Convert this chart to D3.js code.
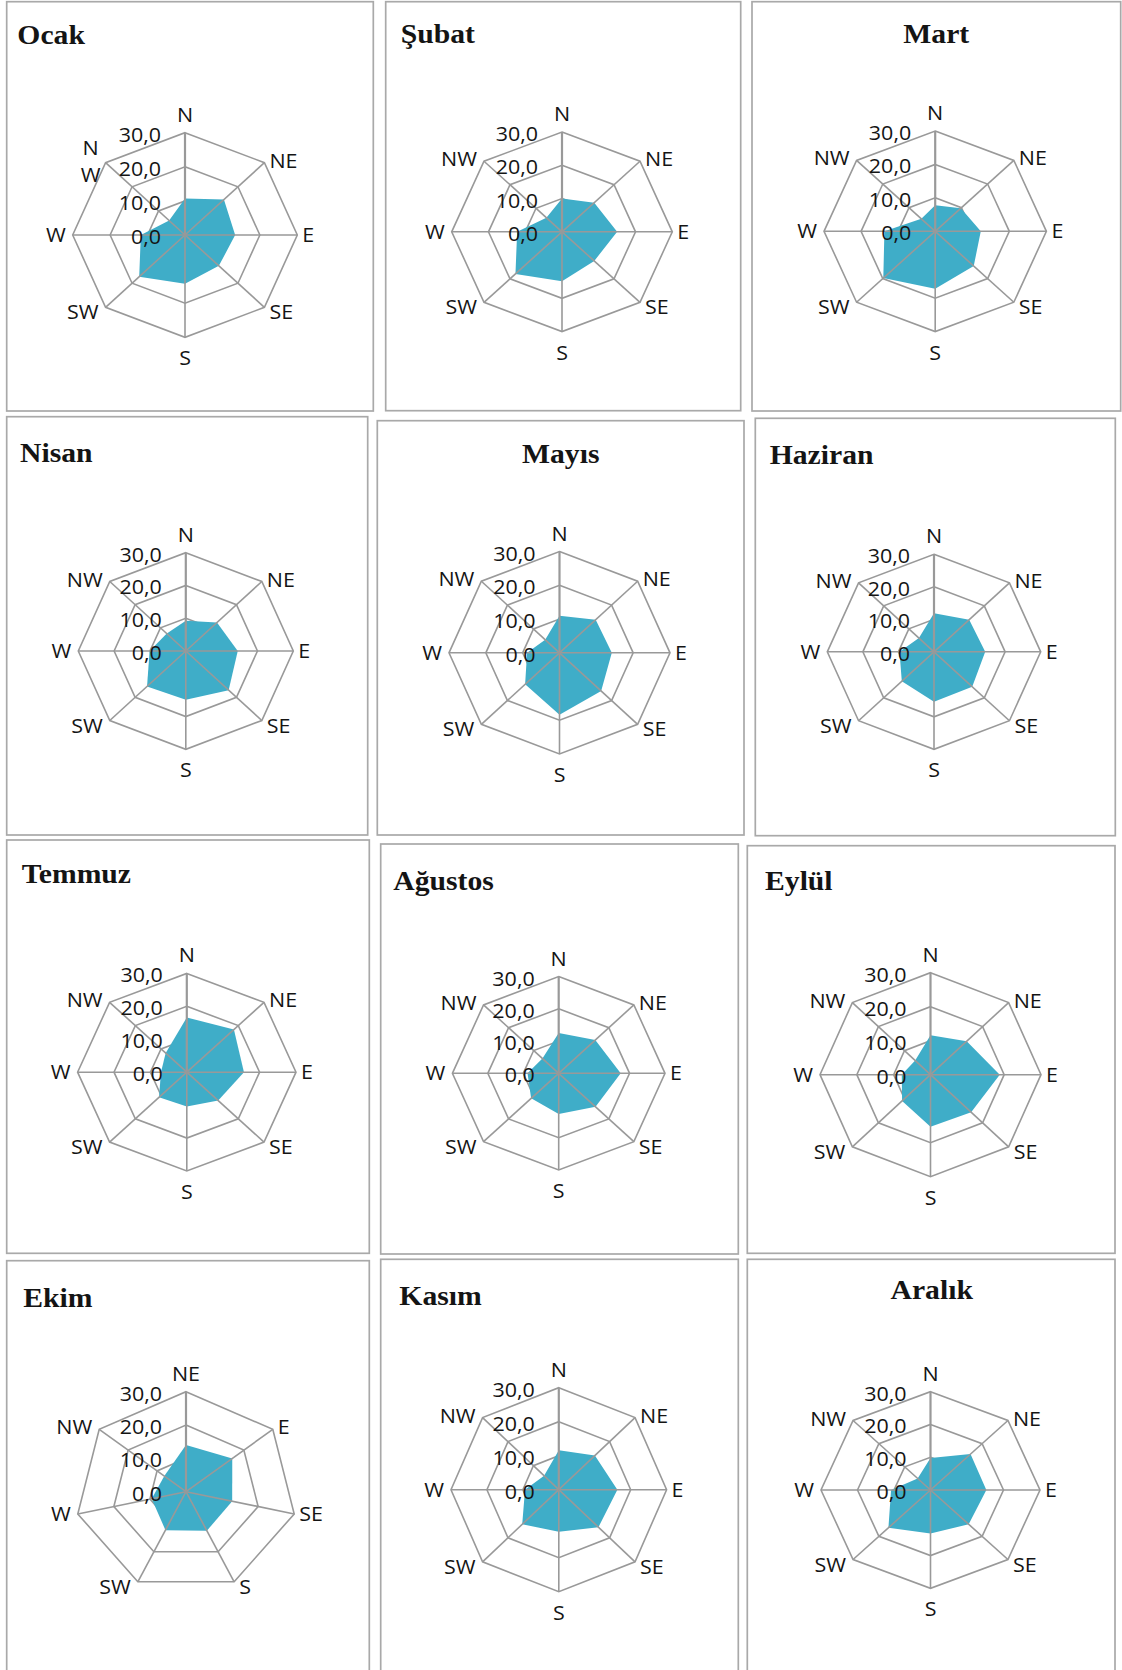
<!DOCTYPE html>
<html>
<head>
<meta charset="utf-8">
<script src="https://cdn.jsdelivr.net/npm/d3@7"></script>
<style>
  html, body { margin: 0; padding: 0; background: #fff; }
  svg { display: block; }
</style>
</head>
<body>
<svg id="chart" width="1122" height="1670"></svg>
<script>
// Monthly wind-direction frequencies (%), one radar per month
const months = ["Ocak", "Şubat", "Mart", "Nisan", "Mayıs", "Haziran",
                "Temmuz", "Ağustos", "Eylül", "Ekim", "Kasım", "Aralık"];
const directions = ["N", "NE", "E", "SE", "S", "SW", "W", "NW"];
const ekimDirections = ["NE", "E", "SE", "S", "SW", "W", "NW"];
const tickValues = [0, 10, 20, 30];
const tickLabels = ["0,0", "10,0", "20,0", "30,0"];

const ocak    = [10.7, 14.7, 13.4, 12.8, 14.3, 17.3, 11.8, 6.0];
const subat   = [10.0, 12.4, 15.0, 12.4, 14.9, 17.9, 12.2, 6.0];
const mart    = [7.8,  9.8,  12.3, 14.7, 17.2, 19.8, 13.7, 5.3];
const nisan   = [9.2,  12.3, 14.5, 16.9, 14.9, 15.3, 10.1, 7.5];
const mayis   = [11.0, 13.9, 14.2, 16.0, 18.4, 13.2, 8.8,  5.5];
const haziran = [11.9, 14.0, 14.4, 15.2, 15.4, 12.8, 9.7,  6.0];
const temmuz  = [16.6, 18.3, 15.7, 12.2, 10.4, 10.8, 7.1,  8.2];
const agustos = [12.5, 14.6, 17.5, 14.7, 12.6, 11.0, 8.8,  6.5];
const eylul   = [11.6, 13.9, 18.8, 15.6, 15.3, 10.9, 7.8,  5.9];
const ekim    = [14.0, 16.0, 12.8, 13.0, 12.8, 9.5,  7.5];
const kasim   = [11.6, 14.2, 16.3, 15.6, 12.4, 14.4, 9.4,  5.8];
const aralik  = [9.8,  15.5, 15.3, 14.8, 13.3, 16.3, 10.8, 5.0];

// Panel frames, radar centres / radii and title placement
const panels = [
  { title: months[0],  values: ocak,    dirs: directions,     box: [6.7, 1.7, 373.3, 411],      cx: 185,   cy: 235,    rx: 112.3, ry: 102.3, tx: 17.3,  ty: 44,     anchor: "start", wrapNW: true },
  { title: months[1],  values: subat,   dirs: directions,     box: [385.7, 1.7, 740.7, 410.7],  cx: 562,   cy: 231.8,  rx: 110.3, ry: 99.8,  tx: 400.7, ty: 43.3,   anchor: "start" },
  { title: months[2],  values: mart,    dirs: directions,     box: [752, 1.7, 1120.7, 411],     cx: 935.2, cy: 231.3,  rx: 111.2, ry: 100.3, tx: 936.3, ty: 43.3,   anchor: "middle" },
  { title: months[3],  values: nisan,   dirs: directions,     box: [6.7, 416.7, 367.7, 835],    cx: 185.8, cy: 651,    rx: 107.5, ry: 98.3,  tx: 20,    ty: 461.7,  anchor: "start" },
  { title: months[4],  values: mayis,   dirs: directions,     box: [377.3, 420.7, 744, 835],    cx: 559.5, cy: 652.8,  rx: 110.5, ry: 101.2, tx: 560.7, ty: 462.7,  anchor: "middle" },
  { title: months[5],  values: haziran, dirs: directions,     box: [755.3, 418.3, 1115.3, 835.7], cx: 934, cy: 651.8,  rx: 106.7, ry: 97.5,  tx: 769.7, ty: 464,    anchor: "start" },
  { title: months[6],  values: temmuz,  dirs: directions,     box: [6.7, 840, 369.3, 1253.3],   cx: 186.8, cy: 1072.2, rx: 109.2, ry: 98.8,  tx: 21.7,  ty: 883.3,  anchor: "start" },
  { title: months[7],  values: agustos, dirs: directions,     box: [380.7, 844, 738.3, 1254],   cx: 558.7, cy: 1073.3, rx: 106.3, ry: 96.7,  tx: 393.3, ty: 890,    anchor: "start" },
  { title: months[8],  values: eylul,   dirs: directions,     box: [747.3, 845.7, 1115, 1253.3], cx: 930.5, cy: 1074.7, rx: 110.5, ry: 102,  tx: 765,   ty: 890,    anchor: "start" },
  { title: months[9],  values: ekim,    dirs: ekimDirections, box: [6.7, 1260.7, 369.3, 1720],  cx: 186,   cy: 1491.7, rx: 111,   ry: 100,   tx: 23.3,  ty: 1306.7, anchor: "start" },
  { title: months[10], values: kasim,   dirs: directions,     box: [380.7, 1259.3, 738.3, 1720], cx: 558.8, cy: 1489.7, rx: 107.8, ry: 102,  tx: 399.3, ty: 1305,   anchor: "start" },
  { title: months[11], values: aralik,  dirs: directions,     box: [747.3, 1259.3, 1115, 1720], cx: 930.5, cy: 1490,   rx: 109.5, ry: 98.3,  tx: 931.7, ty: 1299,   anchor: "middle" }
];

const GRID = "#999999";
const FILL = "#3fadc8";
const TEXT = "#141414";
const LABEL_FONT = "'Open Sans', 'Noto Sans', sans-serif";
const LABEL_SIZE = 19.5;
const STRETCH = 1.1;   // radar text is set slightly wide

const svg = d3.select("#chart");
svg.append("rect").attr("width", 1122).attr("height", 1670).attr("fill", "#fff");

const line = d3.line();

panels.forEach(p => {
  const g = svg.append("g");
  const n = p.dirs.length;
  const angle = d3.scaleLinear().domain([0, n]).range([0, 2 * Math.PI]);
  const rX = d3.scaleLinear().domain([0, 30]).range([0, p.rx]);
  const rY = d3.scaleLinear().domain([0, 30]).range([0, p.ry]);
  const pt = (i, v) => [p.cx + rX(v) * Math.sin(angle(i)), p.cy - rY(v) * Math.cos(angle(i))];

  // panel frame
  g.append("rect")
    .attr("x", p.box[0]).attr("y", p.box[1])
    .attr("width", p.box[2] - p.box[0]).attr("height", p.box[3] - p.box[1])
    .attr("fill", "none").attr("stroke", "#a9a9a9").attr("stroke-width", 1.7);

  // title
  g.append("text")
    .attr("transform", `translate(${p.tx},${p.ty}) scale(1.06,1)`)
    .attr("text-anchor", p.anchor)
    .attr("font-family", "'Liberation Serif', 'Times New Roman', serif")
    .attr("font-weight", "bold")
    .attr("font-size", 28)
    .attr("fill", TEXT)
    .text(p.title);

  // grid rings
  g.selectAll("path.ring")
    .data(tickValues.filter(t => t > 0))
    .join("path")
    .attr("class", "ring")
    .attr("d", t => line(d3.range(n).map(i => pt(i, t))) + "Z")
    .attr("fill", "none").attr("stroke", GRID).attr("stroke-width", 1.6);

  // frequency area
  g.append("path")
    .attr("d", line(p.values.map((v, i) => pt(i, v))) + "Z")
    .attr("fill", FILL);

  // spokes
  g.selectAll("line.spoke")
    .data(d3.range(n))
    .join("line")
    .attr("class", "spoke")
    .attr("x1", p.cx).attr("y1", p.cy)
    .attr("x2", i => pt(i, 30)[0]).attr("y2", i => pt(i, 30)[1])
    .attr("stroke", GRID)
    .attr("stroke-width", i => i === 0 ? 2.2 : 1.6);

  // value axis labels
  g.selectAll("text.tick")
    .data(tickValues)
    .join("text")
    .attr("class", "tick")
    .attr("transform", (t) => `translate(${p.cx - 24},${pt(0, t)[1] + 2}) scale(${STRETCH},1)`)
    .attr("text-anchor", "end")
    .attr("dy", "0.36em")
    .attr("font-family", LABEL_FONT)
    .attr("font-size", LABEL_SIZE)
    .attr("fill", TEXT)
    .text((t, k) => tickLabels[k]);

  // direction labels
  p.dirs.forEach((d, i) => {
    const [vx, vy] = pt(i, 30);
    const s = Math.sin(angle(i)), c = Math.cos(angle(i));
    const txt = g.append("text")
      .attr("font-family", LABEL_FONT)
      .attr("font-size", LABEL_SIZE)
      .attr("fill", TEXT);
    if (p.wrapNW && d === "NW") {
      txt.attr("transform", `translate(${vx - 15},${vy}) scale(${STRETCH},1)`)
        .attr("text-anchor", "middle");
      txt.append("tspan").attr("x", 0).attr("y", -15).attr("dy", "0.36em").text("N");
      txt.append("tspan").attr("x", 0).attr("y", 12.5).attr("dy", "0.36em").text("W");
      return;
    }
    let x = vx, y = vy, anchor = "middle";
    if (s > 0.05) { anchor = "start"; x = vx + 5; }
    else if (s < -0.05) { anchor = "end"; x = vx - 7; }
    if (Math.abs(s) <= 0.05) {
      y = c > 0 ? vy - 18 : vy + 21;
    } else if (c > 0.3) {
      y = vy - 2;
    } else if (c < -0.3) {
      y = vy + 5;
    }
    txt.attr("transform", `translate(${x},${y}) scale(${STRETCH},1)`)
      .attr("text-anchor", anchor)
      .attr("dy", "0.36em")
      .text(d);
  });
});
</script>
</body>
</html>
